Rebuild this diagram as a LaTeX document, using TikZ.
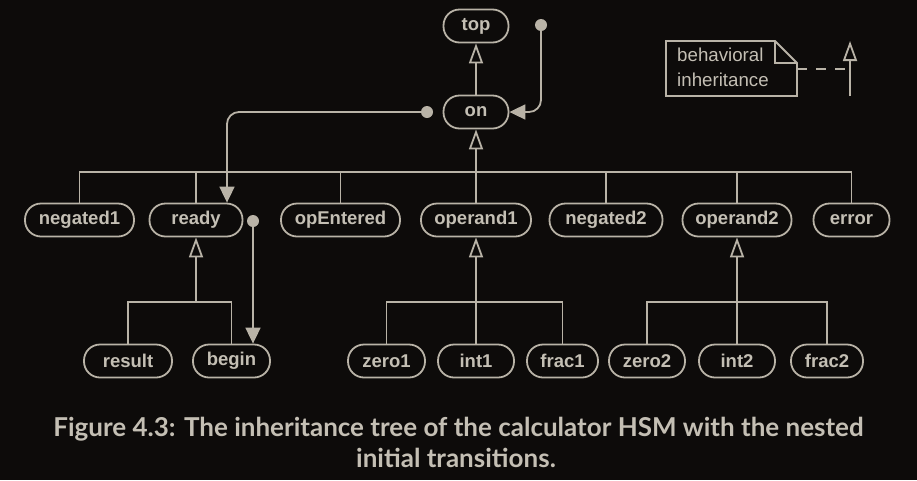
\documentclass[tikz,border=0pt]{standalone}
\usepackage{fontspec}
\setmainfont{Liberation Sans}
\newfontfamily\capfont{Lato}
\usetikzlibrary{arrows.meta}
\definecolor{bgcol}{HTML}{0D0B0A}
\definecolor{linecol}{HTML}{B9B3A7}
\definecolor{textcol}{HTML}{C4BFB4}

\begin{document}
\begin{tikzpicture}[x=1pt,y=-1pt]
	\tikzset{state/.style={draw=linecol,line width=1.8pt,rounded corners=16pt,minimum height=33pt,inner sep=0pt,text=textcol,font=\fontsize{18.5}{20}\selectfont\bfseries},
		dot/.style={fill=linecol,circle,inner sep=0pt,minimum size=12pt},
		inh/.style={draw=linecol,line width=1.8pt,-{Triangle[open,length=20pt,width=14pt,line width=1.8pt]}},
		init/.style={draw=linecol,line width=1.8pt,rounded corners=12pt,-{Triangle[length=16pt,width=15pt]}},
		tree/.style={draw=linecol,line width=1.8pt}}
	
	% Background and bounding box
	\fill[bgcol] (0,0) rectangle (917,480);
	\useasboundingbox (0,0) rectangle (917,480);
	
	% Top states
	\node[state,minimum width=65pt] (top) at (476,26) {top};
	\node[state,minimum width=65pt] (on) at (476,112) {on};
	
	% Children of on
	\node[state,minimum width=109pt] (negated1) at (79.5,220) {negated1};
	\node[state,minimum width=93pt] (ready) at (196,220) {ready};
	\node[state,minimum width=119pt] (opEntered) at (340.5,220) {opEntered};
	\node[state,minimum width=110pt] (operand1) at (476,220) {operand1};
	\node[state,minimum width=113pt] (negated2) at (606,220) {negated2};
	\node[state,minimum width=109pt] (operand2) at (737,220) {operand2};
	\node[state,minimum width=76pt] (error) at (851.5,220) {error};
	
	% Grandchildren
	\node[state,minimum width=88pt] (result) at (128,361) {result};
	\node[state,minimum width=77pt] (begin) at (231.5,361) {begin};
	\node[state,minimum width=77pt] (zero1) at (386.5,361) {zero1};
	\node[state,minimum width=76pt] (int1) at (476,361) {int1};
	\node[state,minimum width=71pt] (frac1) at (562.5,361) {frac1};
	\node[state,minimum width=76pt] (zero2) at (647,361) {zero2};
	\node[state,minimum width=76pt] (int2) at (737,361) {int2};
	\node[state,minimum width=72pt] (frac2) at (827,361) {frac2};
	
	% Bus lines
	\coordinate (busOn) at (476,172);
	\coordinate (busReady) at (196,302);
	\coordinate (busOp1) at (476,302);
	\coordinate (busOp2) at (737,302);
	
	% Inheritance arrows
	\draw[inh] (on) -- (top);
	\draw[inh] (operand1) -- (on);
	\draw[inh] (busReady) -- (ready);
	\draw[inh] (int1) -- (operand1);
	\draw[inh] (int2) -- (operand2);
	
	% Tree lines
	\draw[tree] (negated1.north) |- (busOn) -| (error.north);
	\foreach \s in {ready,opEntered,negated2,operand2}
	{
		\draw[tree] (\s.north) -- (\s |- busOn);
	}
	\draw[tree] (result.north) |- (busReady) -| (begin.north);
	\draw[tree] (zero1.north) |- (busOp1) -| (frac1.north);
	\draw[tree] (zero2.north) |- (busOp2) -| (frac2.north);
	
	% Initial transitions
	\node[dot] (initOn) at (541,25) {};
	\node[dot] (initReady) at (427,112) {};
	\node[dot] (initBegin) at (253,221) {};
	\draw[init] (initOn.center) |- (on.east);
	\draw[init] (initReady.center) -| ([xshift=31pt]ready.north);
	\draw[init] (initBegin.center) -- (initBegin |- begin.north);
	
	% Note
	\draw[tree,line join=miter] (666,41) -- (775,41) -- (797,63) -- (797,96) -- (666,96) -- cycle;
	\draw[tree] (775,41) -- (775,63) -- (797,63);
	\node[anchor=west,align=left,text=textcol,font=\fontsize{18.7}{25}\selectfont,inner sep=0pt] (noteText) at (677,67) {behavioral\\inheritance};
	\coordinate (noteR) at (797,69);
	\coordinate (legBot) at (850,96);
	\coordinate (legTop) at (850,41);
	\draw[inh] (legBot) -- (legTop);
	\draw[tree,dash pattern=on 10pt off 9pt] (noteR) -- (legBot |- noteR);
	
	% Caption
	\node[text=textcol,font=\capfont\fontsize{26}{30}\selectfont\bfseries] (cap1) at (458.5,429) {Figure 4.3: The inheritance tree of the calculator HSM with the nested};
	\node[text=textcol,font=\capfont\fontsize{26}{30}\selectfont\bfseries] (cap2) at (456,458) {initial transitions.};
\end{tikzpicture}
\end{document}
